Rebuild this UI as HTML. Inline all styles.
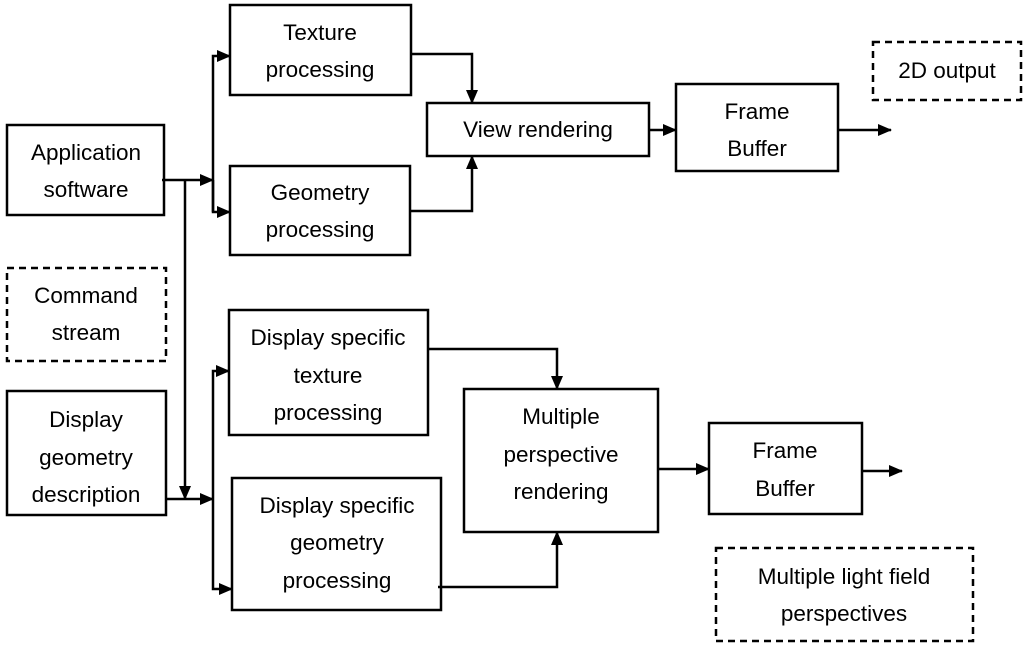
<!DOCTYPE html>
<html><head><meta charset="utf-8"><style>
html,body{margin:0;padding:0;background:#fff;}
svg{display:block;}
text{font-family:"Liberation Sans",sans-serif;font-size:22.5px;fill:#000;text-anchor:middle;}
</style></head><body>
<svg width="1024" height="647" viewBox="0 0 1024 647" xmlns="http://www.w3.org/2000/svg">
<defs>
<marker id="b" markerWidth="14" markerHeight="12" refX="13" refY="6" orient="auto" markerUnits="userSpaceOnUse">
<path d="M0,0 L14,6 L0,12 z" fill="#000"/>
</marker>
</defs>
<g fill="none" stroke="#000" stroke-width="2.5">
<rect x="7" y="125" width="157" height="90"/>
<rect x="230" y="5" width="181" height="90"/>
<rect x="230" y="166" width="180" height="89"/>
<rect x="427" y="103" width="222" height="53"/>
<rect x="676" y="84" width="162" height="87"/>
<rect x="7" y="391" width="159" height="124"/>
<rect x="229" y="310" width="199" height="125"/>
<rect x="232" y="478" width="209" height="132"/>
<rect x="464" y="389" width="194" height="143"/>
<rect x="709" y="423" width="153" height="91"/>
<g stroke-dasharray="7,5">
<rect x="873" y="42" width="148" height="58"/>
<rect x="7" y="268" width="159" height="93"/>
<rect x="716" y="548" width="257" height="93"/>
</g>
<path d="M162,180 H213" marker-end="url(#b)"/>
<path d="M185,180 V499" marker-end="url(#b)"/>
<path d="M213,212 V56 H230" marker-end="url(#b)"/>
<path d="M213,180 V212 H230" marker-end="url(#b)"/>
<path d="M411,54 H472 V103" marker-end="url(#b)"/>
<path d="M410,211 H472 V156" marker-end="url(#b)"/>
<path d="M649,130 H676" marker-end="url(#b)"/>
<path d="M838,130 H891" marker-end="url(#b)"/>
<path d="M166,499 H213" marker-end="url(#b)"/>
<path d="M213,499 V371 H229" marker-end="url(#b)"/>
<path d="M213,499 V589 H232" marker-end="url(#b)"/>
<path d="M428,349 H557 V389" marker-end="url(#b)"/>
<path d="M438,587 H557 V532" marker-end="url(#b)"/>
<path d="M658,469 H709" marker-end="url(#b)"/>
<path d="M862,471 H902" marker-end="url(#b)"/>
</g>
<text x="86" y="160">Application</text>
<text x="86" y="197">software</text>
<text x="320" y="40">Texture</text>
<text x="320" y="77">processing</text>
<text x="320" y="200">Geometry</text>
<text x="320" y="237">processing</text>
<text x="538" y="137">View rendering</text>
<text x="757" y="119">Frame</text>
<text x="757" y="156">Buffer</text>
<text x="947" y="78">2D output</text>
<text x="86" y="303">Command</text>
<text x="86" y="340">stream</text>
<text x="86" y="427">Display</text>
<text x="86" y="465">geometry</text>
<text x="86" y="502">description</text>
<text x="328" y="345">Display specific</text>
<text x="328" y="383">texture</text>
<text x="328" y="420">processing</text>
<text x="337" y="513">Display specific</text>
<text x="337" y="550">geometry</text>
<text x="337" y="588">processing</text>
<text x="561" y="424">Multiple</text>
<text x="561" y="462">perspective</text>
<text x="561" y="499">rendering</text>
<text x="785" y="458">Frame</text>
<text x="785" y="496">Buffer</text>
<text x="844" y="584">Multiple light field</text>
<text x="844" y="621">perspectives</text>
</svg>
</body></html>
